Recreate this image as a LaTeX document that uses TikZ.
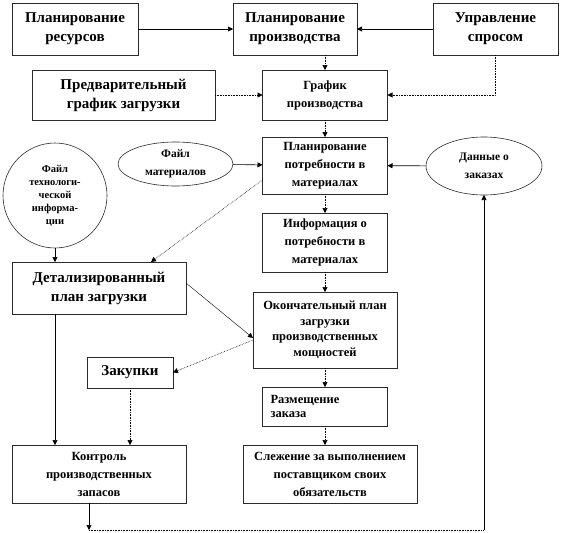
\documentclass[tikz,border=0pt]{standalone}
\usepackage{fontspec}
\setmainfont{Liberation Serif}
\usetikzlibrary{arrows.meta,positioning,calc,shapes.geometric}
\definecolor{ink}{HTML}{000000}
\definecolor{frame}{HTML}{2B2B2B}
\tikzset{
  base/.style={align=center, inner sep=2pt, outer sep=0pt, text=ink},
  blk/.style={base, draw=frame, line width=0.6pt},
  big/.style={font=\bfseries\fontsize{15}{19}\selectfont},
  mid/.style={font=\bfseries\fontsize{12.5}{18}\selectfont},
  oval/.style={base, ellipse, draw=frame, line width=0.6pt, inner sep=0pt},
  arr/.style={-{Triangle[length=5pt,width=5pt]}, line width=0.6pt, draw=ink},
  darr/.style={arr, densely dotted},
}

\begin{document}
\begin{tikzpicture}[x=1pt, y=-1pt]
  \useasboundingbox (0,0) rectangle (563,533);
  % top row
  \node[blk, big, minimum width=126pt, minimum height=52pt] (res) at (75,29) {Планирование\\ресурсов};
  \node[blk, big, minimum width=124pt, minimum height=52pt] (prod) at (295,29) {Планирование\\производства};
  \node[blk, big, minimum width=125pt, minimum height=52pt] (spros) at (495.5,29) {Управление\\спросом};
  \node[blk, big, minimum width=183pt, minimum height=50pt] (pred) at (123.5,95) {Предварительный\\график загрузки};
  \node[blk, mid, minimum width=125pt, minimum height=50pt] (graf) at (325,95) {График\\производства};
  % files and requirements
  \node[oval, font=\bfseries\fontsize{10.5}{13}\selectfont, minimum width=104pt, minimum height=105pt] (tech) at (55,195.5) {Файл\\технологи-\\ческой\\информа-\\ции};
  \node[oval, font=\bfseries\fontsize{11.5}{18}\selectfont, minimum width=115pt, minimum height=44pt] (mat) at (175.5,164) {Файл\\материалов};
  \node[blk, mid, minimum width=125pt, minimum height=57pt] (potr) at (325,165.5) {Планирование\\потребности в\\материалах};
  \node[oval, font=\bfseries\fontsize{11.5}{18}\selectfont, minimum width=116pt, minimum height=58pt] (dan) at (484,166) {Данные о\\заказах};
  \node[blk, mid, minimum width=125pt, minimum height=59pt] (info) at (325,242.5) {Информация о\\потребности в\\материалах};
  % plans
  \node[blk, big, minimum width=174pt, minimum height=52pt] (det) at (99,288) {Детализированный\\план загрузки};
  \node[blk, font=\bfseries\fontsize{12.5}{15.5}\selectfont, minimum width=144pt, minimum height=76pt] (okon) at (325,330) {Окончательный план\\загрузки\\производственных\\мощностей};
  \node[blk, big, minimum width=86pt, minimum height=31pt] (zak) at (130,372.5) {Закупки};
  \node[blk, font=\bfseries\fontsize{12.5}{14}\selectfont, align=left, text width=109pt, inner xsep=8pt, minimum height=39pt] (razm) at (325,406.5) {Размещение\\заказа};
  % bottom row
  \node[blk, mid, minimum width=174pt, minimum height=58pt] (kontr) at (99,474) {Контроль\\производственных\\запасов};
  \node[blk, mid, minimum width=174pt, minimum height=58pt] (slezh) at (330,474) {Слежение за выполнением\\поставщиком своих\\обязательств};
  \coordinate (low) at ($(kontr.south)+(-10,27)$);

  \draw[arr] (res) -- (prod);
  \draw[arr] (spros) -- (prod);
  \draw[darr] (prod.south -| graf.north) -- (graf.north);
  \draw[darr] (spros.south) |- (graf.east);
  \draw[darr] (pred) -- (graf);
  \draw[darr] (graf) -- (potr);
  \draw[arr] (mat) -- (potr);
  \draw[arr] (dan) -- (potr);
  \draw[darr] (potr) -- (info);
  \draw[darr] ($(potr.south west)+(0,-14)$) -- ($(det.north)+(52,0)$);
  \draw[arr] (tech.south) -- (tech.south |- det.north);
  \draw[darr] (info) -- (okon);
  \draw[arr, line width=0.4pt] ($(det.east)+(0,-5)$) -- ($(okon.west)+(0,8)$);
  \draw[darr] ($(okon.west)+(0,10)$) -- (zak.east);
  \draw[darr] (okon) -- (razm);
  \draw[darr] (razm.south) -- (razm.south |- slezh.north);
  \draw[arr] (det.south -| tech.south) -- (kontr.north -| tech.south);
  \draw[darr] (zak.south) -- (zak.south |- kontr.north);
  \draw[arr] (kontr.south -| low) -- (low);
  \draw[densely dotted, line width=0.6pt] (low) -- (low -| dan.south);
  \draw[arr] (low -| dan.south) -- (dan.south);
\end{tikzpicture}
\end{document}
